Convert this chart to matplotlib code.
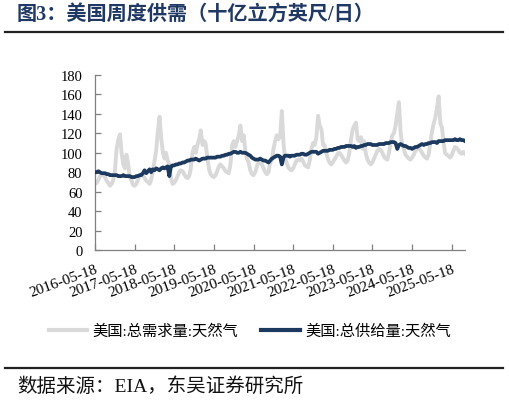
import matplotlib
matplotlib.use("Agg")
import matplotlib.pyplot as plt
from matplotlib.lines import Line2D
import pandas as pd

# ---------------- data (semi-monthly readings, 3rd & 18th of month) ----------------
start_date = "2016-05-18"
end_date = "2025-09-18"

demand = [
    68,                                   # 2016-05
    69, 72, 76, 77, 78, 75, 71, 69, 66, 68, 72, 82, 104, 113,          # 2016 Jun-Dec
    119, 100, 88, 84, 98, 90, 75, 72, 67, 66, 68, 72,                   # 2017 Jan-Jun
    76, 78, 77, 74, 71, 70, 68, 72, 82, 92, 102, 122,                   # 2017 Jul-Dec
    137, 115, 100, 94, 100, 92, 88, 74, 68, 69, 72, 76,                 # 2018 Jan-Jun
    80, 82, 81, 78, 75, 74, 76, 84, 100, 106, 100, 108,                 # 2018 Jul-Dec
    114, 123, 108, 112, 110, 96, 84, 78, 76, 75, 77, 81,                # 2019 Jan-Jun
    86, 88, 86, 84, 81, 80, 79, 88, 108, 112, 106, 112,                 # 2019 Jul-Dec
    118, 128, 112, 118, 102, 94, 90, 82, 78, 77, 80, 86,                # 2020 Jan-Jun
    90, 91, 88, 84, 80, 78, 80, 90, 92, 104, 112, 118,                  # 2020 Jul-Dec
    114, 116, 143, 110, 96, 90, 85, 83, 82, 84, 88, 92,                 # 2021 Jan-Jun
    93, 92, 94, 91, 87, 86, 85, 92, 104, 110, 108, 116,                 # 2021 Jul-Dec
    138, 128, 124, 108, 108, 100, 94, 90, 88, 90, 93, 96,               # 2022 Jan-Jun
    99, 100, 98, 95, 92, 90, 92, 100, 114, 124, 128, 131,               # 2022 Jul-Dec
    114, 112, 116, 104, 112, 100, 93, 90, 88, 90, 94, 98,               # 2023 Jan-Jun
    102, 104, 103, 100, 96, 94, 93, 100, 110, 118, 120, 128,            # 2023 Jul-Dec
    140, 152, 120, 108, 104, 98, 96, 94, 93, 95, 98, 102,               # 2024 Jan-Jun
    104, 104, 103, 100, 97, 95, 94, 98, 110, 122, 130, 136,             # 2024 Jul-Dec
    146, 158, 130, 126, 112, 100, 98, 97, 95, 97, 102, 106,             # 2025 Jan-Jun
    105, 103, 100, 99, 101, 99,                                         # 2025 Jul-Sep
]

supply = [
    80,                                                                 # 2016-05
    80, 81, 80, 79, 79, 79, 78, 78, 77, 77, 77, 77, 77, 76,             # 2016 Jun-Dec
    76, 76, 77, 76, 76, 76, 76, 75, 75, 75, 76, 76,                     # 2017 Jan-Jun
    77, 77, 79, 82, 79, 81, 83, 80, 83, 82, 84, 83,                     # 2017 Jul-Dec
    82, 84, 85, 84, 85, 86, 76, 86, 87, 87, 88, 88,                     # 2018 Jan-Jun
    89, 89, 90, 90, 91, 92, 92, 93, 93, 93, 94, 93,                     # 2018 Jul-Dec
    92, 93, 94, 94, 94, 95, 95, 95, 95, 95, 95, 96,                     # 2019 Jan-Jun
    96, 96, 97, 97, 98, 98, 99, 99, 100, 101, 101, 100,                 # 2019 Jul-Dec
    100, 101, 100, 100, 100, 99, 98, 97, 95, 94, 93, 93,                # 2020 Jan-Jun
    93, 94, 93, 92, 92, 91, 90, 92, 94, 95, 96, 97,                     # 2020 Jul-Dec
    97, 96, 88, 95, 97, 97, 97, 96, 97, 97, 97, 98,                     # 2021 Jan-Jun
    98, 98, 99, 99, 98, 98, 99, 100, 101, 101, 101, 101,                # 2021 Jul-Dec
    99, 100, 101, 102, 102, 102, 102, 103, 103, 103, 104, 104,          # 2022 Jan-Jun
    105, 105, 106, 106, 106, 107, 107, 107, 107, 106, 107, 105,         # 2022 Jul-Dec
    106, 106, 107, 107, 108, 108, 109, 109, 109, 108, 108, 108,         # 2023 Jan-Jun
    108, 109, 109, 109, 109, 110, 110, 110, 111, 111, 111, 110,         # 2023 Jul-Dec
    104, 108, 109, 108, 107, 107, 106, 105, 105, 104, 105, 106,         # 2024 Jan-Jun
    106, 107, 108, 109, 108, 109, 109, 110, 110, 111, 111, 111,         # 2024 Jul-Dec
    110, 112, 112, 112, 112, 113, 113, 113, 113, 113, 113, 114,         # 2025 Jan-Jun
    113, 113, 114, 113, 113, 112,                                       # 2025 Jul-Sep
]

tick_labels = ["2016-05-18", "2017-05-18", "2018-05-18", "2019-05-18", "2020-05-18",
               "2021-05-18", "2022-05-18", "2023-05-18", "2024-05-18", "2025-05-18"]
y_ticks = [0, 20, 40, 60, 80, 100, 120, 140, 160, 180]

series_names = ["美国:总需求量:天然气", "美国:总供给量:天然气"]
title_text = "图3：美国周度供需（十亿立方英尺/日）"
source_text = "数据来源：EIA，东吴证券研究所"

# ---------------- dates ----------------
dates = [pd.Timestamp(start_date)]
for m in pd.period_range("2016-06", end_date[:7], freq="M"):
    dates.append(pd.Timestamp(year=m.year, month=m.month, day=3))
    dates.append(pd.Timestamp(year=m.year, month=m.month, day=18))
n = min(len(dates), len(demand), len(supply))
dates = dates[:n]
demand = demand[:n]
supply = supply[:n]

# ---------------- styling ----------------
NAVY = "#1C3A5F"
GRAY = "#D9D9D9"
TITLE_C = "#1F3864"
AXIS_C = "#808080"
SERIF_CJK = ["Liberation Serif", "Noto Sans CJK SC"]
plt.rcParams["font.family"] = SERIF_CJK

fig = plt.figure(figsize=(5.09, 4.02), dpi=100)
ax = fig.add_axes([95 / 509, 1 - 251 / 402, (465 - 95) / 509, (251 - 76) / 402])

ax.plot(dates, demand, color=GRAY, lw=2.8, solid_joinstyle="round", label=series_names[0], zorder=2)
ax.plot(dates, supply, color=NAVY, lw=2.7, solid_joinstyle="round", label=series_names[1], zorder=3)

ax.set_ylim(0, 180)
ax.set_yticks(y_ticks)
ax.set_xlim(dates[0], dates[-1])
tick_dates = [pd.Timestamp(t) for t in tick_labels]
ax.set_xticks(tick_dates)
ax.set_xticklabels(tick_labels, rotation=20, ha="right", rotation_mode="anchor", fontsize=11)
ax.tick_params(axis="y", labelsize=10.5)

for s in ["top", "right"]:
    ax.spines[s].set_visible(False)
for s in ["left", "bottom"]:
    ax.spines[s].set_color(AXIS_C)
    ax.spines[s].set_linewidth(0.9)
ax.tick_params(axis="both", direction="in", colors=AXIS_C, labelcolor="black", length=4, width=0.9)
ax.tick_params(axis="x", pad=9)
ax.tick_params(axis="y", pad=9)

leg = fig.legend(loc="center", bbox_to_anchor=(250 / 509, 1 - 332 / 402), ncol=2, frameon=False,
                 prop={"size": 11}, handlelength=2.5, handletextpad=0.35,
                 columnspacing=1.5)
for h in leg.get_lines():
    h.set_linewidth(3)

# title and rules
fig.text(17 / 509, 1 - 15 / 402, title_text, fontsize=14.5, fontweight="bold", color=TITLE_C,
         ha="left", va="center")
fig.add_artist(Line2D([5 / 509, 503 / 509], [1 - 33 / 402, 1 - 33 / 402], color="#222222", lw=1.6,
                      transform=fig.transFigure))
fig.add_artist(Line2D([5 / 509, 503 / 509], [1 - 369 / 402, 1 - 369 / 402], color="#222222", lw=1.6,
                      transform=fig.transFigure))
fig.text(17 / 509, 1 - 387 / 402, source_text, fontsize=14, color="#111111",
         ha="left", va="center")

fig.savefig("out.png", dpi=100)
